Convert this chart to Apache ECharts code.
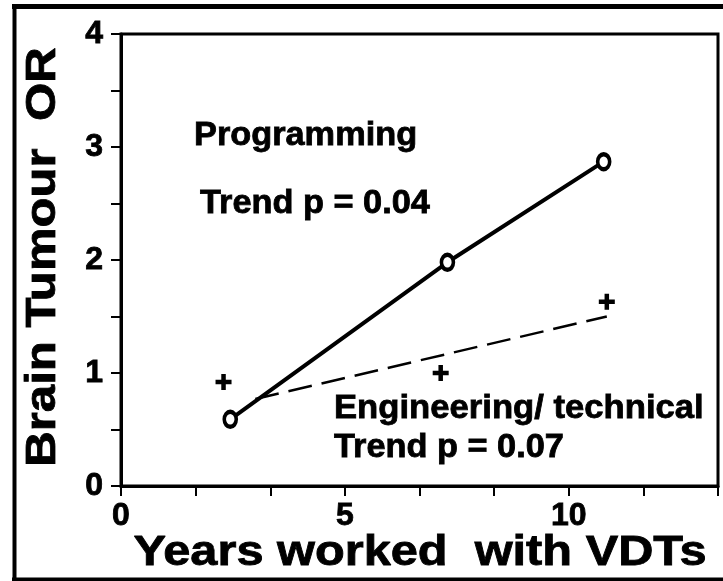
<!DOCTYPE html>
<html>
<head>
<meta charset="utf-8">
<script src="https://cdn.jsdelivr.net/npm/echarts@6/dist/echarts.min.js"></script>
<style>
  html, body { margin: 0; padding: 0; background: #fff; }
  #chart { width: 723px; height: 581px; }
</style>
</head>
<body>
<div id="chart"></div>
<script>
// programming group (o markers, solid line)
var progYears = [2.44, 7.29, 10.78];
var progOR = [0.59, 1.98, 2.87];
// engineering / technical group (+ markers)
var engYears = [2.29, 7.14, 10.85];
var engOR = [0.92, 1.0, 1.63];
// fitted trend for engineering (dashed)
var engTrendYears = [3.0, 10.85];
var engTrendOR = [0.77, 1.5];
// tick labels
var xTickLabels = [0, 5, 10];
var yTickLabels = [0, 1, 2, 3, 4];

var FONT = "'Liberation Sans', Arial, sans-serif";

function pairs(xs, ys){
    var out = [];
    for (var i = 0; i < xs.length; i++) out.push([xs[i], ys[i]]);
    return out;
}
function onlyLabels(list){
    return function(v){
        for (var i = 0; i < list.length; i++) {
            if (Math.abs(v - list[i]) < 1e-3) return String(list[i]);
        }
        return '';
    };
}
function label(text, x, y, size, sx, align, extra){
    align = align || 'left';
    var el = {
        type: 'text',
        x: x, y: y,
        scaleX: sx,
        style: {
            text: text,
            font: 'bold ' + size + 'px ' + FONT,
            fill: '#000',
            stroke: '#000',
            lineWidth: 0.8,
            align: align, verticalAlign: 'middle',
            textAlign: align, textVerticalAlign: 'middle'
        }
    };
    if (extra) for (var k in extra) el[k] = extra[k];
    return el;
}

var plusPath = 'path://M0,5.75h16v4.5H0z M5.75,0h4.5v16h-4.5z';

var option = {
    backgroundColor: '#fff',
    animation: false,
    grid: {
        left: 121, right: 5, top: 34, bottom: 95,
        containLabel: false,
        outerBoundsMode: 'none',
        show: true,
        borderColor: '#000',
        borderWidth: 3
    },
    xAxis: {
        type: 'value',
        min: 0,
        max: 40 / 3,
        interval: 5 / 3,
        splitLine: { show: false },
        axisLine: { show: true, lineStyle: { color: '#000', width: 3 } },
        axisTick: { show: true, length: 10, lineStyle: { color: '#000', width: 2 } },
        axisLabel: {
            margin: 14,
            color: '#000',
            textBorderColor: '#000',
            textBorderWidth: 0.8,
            fontFamily: FONT,
            fontWeight: 'bold',
            fontSize: 32,
            showMaxLabel: true,
            formatter: onlyLabels(xTickLabels)
        }
    },
    yAxis: {
        type: 'value',
        min: 0,
        max: 4,
        interval: 0.5,
        splitLine: { show: false },
        axisLine: { show: true, lineStyle: { color: '#000', width: 3 } },
        axisTick: { show: true, length: 10, lineStyle: { color: '#000', width: 2 } },
        axisLabel: {
            margin: 18,
            color: '#000',
            textBorderColor: '#000',
            textBorderWidth: 0.8,
            fontFamily: FONT,
            fontWeight: 'bold',
            fontSize: 32,
            formatter: onlyLabels(yTickLabels)
        }
    },
    series: [
        {
            name: 'Engineering/ technical trend',
            type: 'line',
            data: pairs(engTrendYears, engTrendOR),
            symbol: 'none',
            lineStyle: { color: '#000', width: 2.5, type: [24, 10] },
            z: 2
        },
        {
            name: 'Programming',
            type: 'line',
            data: pairs(progYears, progOR),
            symbol: 'circle',
            symbolSize: [12, 15],
            lineStyle: { color: '#000', width: 4 },
            itemStyle: { color: '#fff', borderColor: '#000', borderWidth: 4 },
            z: 3
        },
        {
            name: 'Engineering/ technical',
            type: 'scatter',
            data: pairs(engYears, engOR),
            symbol: plusPath,
            symbolSize: 16,
            itemStyle: { color: '#000', opacity: 1 },
            z: 4
        }
    ],
    graphic: [
        // outer frame
        { type: 'line', shape: { x1: 12, y1: 6.5, x2: 723, y2: 6.5 }, style: { stroke: '#000', lineWidth: 5 } },
        { type: 'line', shape: { x1: 14.5, y1: 4, x2: 14.5, y2: 581 }, style: { stroke: '#000', lineWidth: 4 } },
        { type: 'line', shape: { x1: 12, y1: 579.5, x2: 723, y2: 579.5 }, style: { stroke: '#000', lineWidth: 4 } },
        // annotations
        label('Programming', 194, 136, 33, 1.04),
        label('Trend p = 0.04', 200, 204, 33, 1.04),
        label('Engineering/ technical', 334, 409, 33, 1.05),
        label('Trend p = 0.07', 334, 448, 33, 1.04),
        // axis titles
        label('Years worked  with VDTs', 420, 553, 42, 1.16, 'center'),
        label('Brain Tumour  OR', 43, 257, 42, 1.17, 'center', { rotation: Math.PI / 2 })
    ]
};

var myChart = echarts.init(document.getElementById('chart'));
myChart.setOption(option);
</script>
</body>
</html>
